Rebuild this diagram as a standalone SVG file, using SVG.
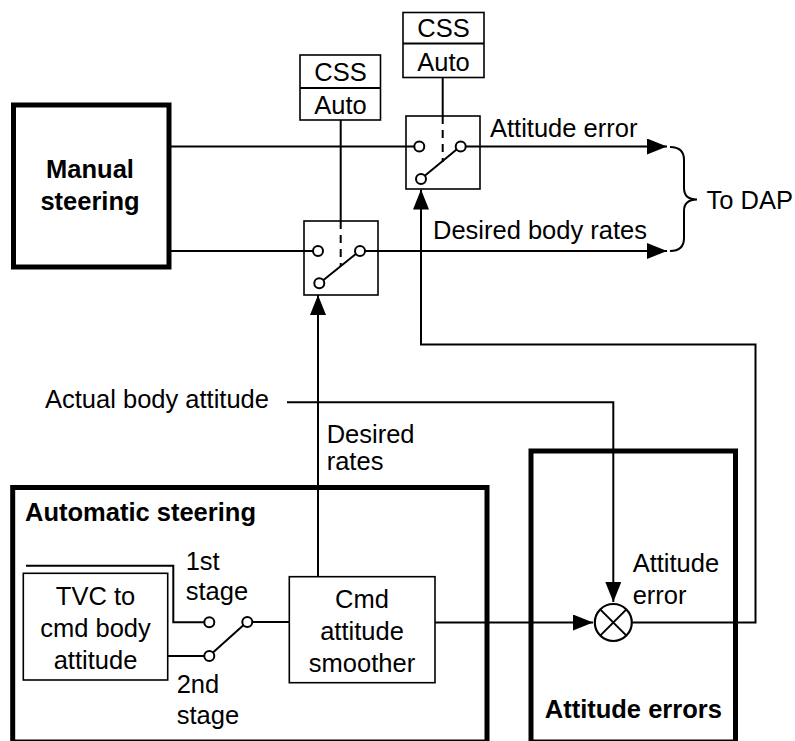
<svg xmlns="http://www.w3.org/2000/svg" width="795" height="741" viewBox="0 0 795 741">
<defs>
<style>
text{font-family:"Liberation Sans",Arial,sans-serif;font-size:25.5px;fill:#000}
.b{font-weight:bold}
.m{text-anchor:middle}
.e{text-anchor:end}
.thick{fill:none;stroke:#000;stroke-width:5}
.box{fill:none;stroke:#000;stroke-width:1.6}
.ln{fill:none;stroke:#000;stroke-width:2}
.dash{fill:none;stroke:#000;stroke-width:2;stroke-dasharray:8,6}
.pin{fill:#fff;stroke:#000;stroke-width:2}
</style>
<marker id="ah" markerUnits="userSpaceOnUse" markerWidth="20" markerHeight="16" refX="20" refY="8" orient="auto">
<path d="M0,0 L20,8 L0,16 z" fill="#000"/>
</marker>
</defs>
<rect width="795" height="741" fill="#fff"/>

<g id="connectors">
<path class="ln" d="M169,146.5 H414.3"/>
<path class="ln" d="M169,251 H313"/>
<path class="ln" d="M465.7,146.5 H667" marker-end="url(#ah)"/>
<path class="ln" d="M365,251 H667" marker-end="url(#ah)"/>
<path class="ln" d="M340.7,120 V221"/>
<path class="ln" d="M442.7,77 V116"/>
<path class="ln" d="M318,576.7 V295" marker-end="url(#ah)"/>
<path class="ln" d="M287,402.3 H613.3 V602" marker-end="url(#ah)"/>
<path class="ln" d="M435,622.5 H593" marker-end="url(#ah)"/>
<path class="ln" d="M632.3,622.5 H755.5 V344.5 H421 V189.5" marker-end="url(#ah)"/>
<path class="ln" d="M26,565.7 H173.3 V622.3 H204.3"/>
<path class="ln" d="M167.7,656 H204.3"/>
<path class="ln" d="M252.3,622 H289.3"/>
<path class="ln" stroke-width="2.5" d="M670,147 Q684,147 684,160 L684,188 Q684,199.5 697,199.5 Q684,199.5 684,211 L684,238 Q684,251 670,251"/>
</g>

<g id="manual-steering">
<rect class="thick" x="13.5" y="105" width="155.5" height="162"/>
<text class="b m" x="90" y="178">Manual</text>
<text class="b m" x="90" y="209.5">steering</text>
</g>

<g id="css-auto-lower">
<rect class="box" x="300" y="55" width="80.5" height="65" stroke-width="2"/>
<path class="ln" d="M300,88 H380.5"/>
<text class="m" x="340.5" y="81">CSS</text>
<text class="m" x="340.5" y="113.5">Auto</text>
</g>

<g id="css-auto-upper">
<rect class="box" x="403" y="12.5" width="81" height="65" stroke-width="2"/>
<path class="ln" d="M403,43.5 H484"/>
<text class="m" x="443.5" y="37">CSS</text>
<text class="m" x="443.5" y="71">Auto</text>
</g>

<g id="switch-upper">
<rect class="box" x="406" y="116" width="74" height="73"/>
<path class="dash" d="M442.7,116 V162"/>
<path class="ln" d="M424.8,175.8 L456.9,149.2"/>
<circle class="pin" cx="419.3" cy="146.5" r="5"/>
<circle class="pin" cx="460.7" cy="146.5" r="5"/>
<circle class="pin" cx="421" cy="179" r="5"/>
</g>

<g id="switch-lower">
<rect class="box" x="304" y="221" width="74" height="74"/>
<path class="dash" d="M340.7,221 V266"/>
<path class="ln" d="M323.2,280.2 L356.1,253.8"/>
<circle class="pin" cx="318" cy="251" r="5"/>
<circle class="pin" cx="360" cy="251" r="5"/>
<circle class="pin" cx="319.3" cy="283.3" r="5"/>
</g>

<g id="labels">
<text x="490" y="137">Attitude error</text>
<text class="e" x="647" y="238.5">Desired body rates</text>
<text x="706.5" y="208.5">To DAP</text>
<text x="45" y="408">Actual body attitude</text>
<text x="326.7" y="443">Desired</text>
<text x="326.7" y="469.5">rates</text>
</g>

<g id="automatic-steering">
<rect class="thick" x="12.7" y="487.5" width="474.3" height="254.5"/>
<text class="b" x="25" y="521">Automatic steering</text>
<text x="185.7" y="570">1st</text>
<text x="185.7" y="600">stage</text>
<text x="176.7" y="693.3">2nd</text>
<text x="176.7" y="723.5">stage</text>
</g>

<g id="tvc">
<rect class="box" x="23.3" y="573.3" width="144.4" height="106.7"/>
<text class="m" x="95.5" y="605">TVC to</text>
<text class="m" x="95.5" y="637">cmd body</text>
<text class="m" x="95.5" y="668.5">attitude</text>
</g>

<g id="stage-switch">
<path class="ln" d="M213,652.6 L243.6,625"/>
<circle class="pin" cx="209.3" cy="622.3" r="5"/>
<circle class="pin" cx="209.3" cy="656" r="5"/>
<circle class="pin" cx="247.3" cy="622" r="5"/>
</g>

<g id="smoother">
<rect class="box" x="289.3" y="576.7" width="145.7" height="106"/>
<text class="m" x="362" y="608.3">Cmd</text>
<text class="m" x="362" y="640">attitude</text>
<text class="m" x="362" y="671.7">smoother</text>
</g>

<g id="attitude-errors">
<rect class="thick" x="531" y="451" width="204.5" height="291"/>
<text class="b m" x="633.3" y="718.3">Attitude errors</text>
<text x="632.7" y="571.7">Attitude</text>
<text x="632.7" y="604.3">error</text>
</g>

<g id="summing-junction">
<circle cx="613.3" cy="622.5" r="18.5" fill="#fff" stroke="#000" stroke-width="2.2"/>
<path class="ln" d="M600.2,609.4 L626.4,635.6 M626.4,609.4 L600.2,635.6"/>
</g>
</svg>
